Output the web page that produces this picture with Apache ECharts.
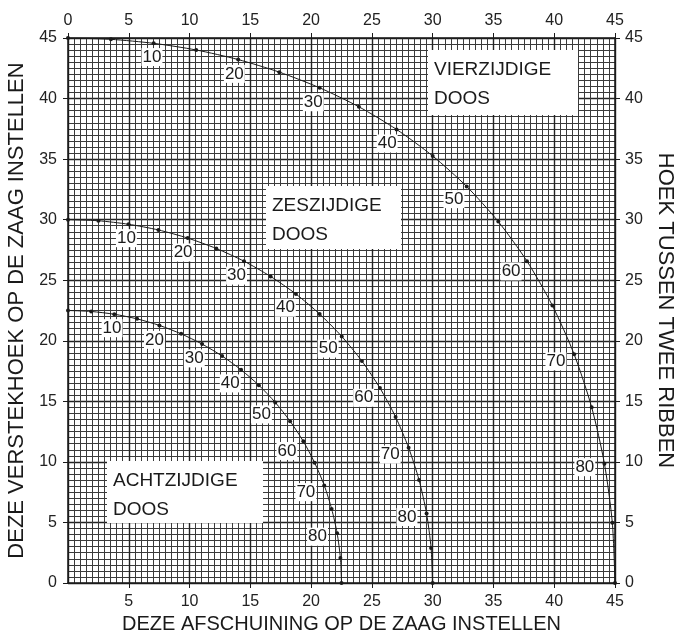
<!DOCTYPE html>
<html>
<head>
<meta charset="utf-8">
<script src="https://cdn.jsdelivr.net/npm/echarts@6/dist/echarts.min.js"></script>
<style>
  html, body { margin: 0; padding: 0; background: #fff; }
  #chart { width: 679px; height: 633px; }
</style>
</head>
<body>
<div id="chart"></div>
<script>
// hoek van de zijwand (0..90), stappen van 5
var tiltAngles = [0, 5, 10, 15, 20, 25, 30, 35, 40, 45, 50, 55, 60, 65, 70, 75, 80, 85, 90]
var labelledAngles = [10, 20, 30, 40, 50, 60, 70, 80]
var axisTicks = [0, 5, 10, 15, 20, 25, 30, 35, 40, 45]

// vierzijdige doos
var bevelFour = [0, 3.53, 7.05, 10.55, 14.0, 17.39, 20.7, 23.93, 27.03, 30.0, 32.8, 35.4, 37.76, 39.85, 41.64, 43.08, 44.13, 44.78, 45]
var miterFour = [45, 44.89, 44.56, 44.01, 43.22, 42.18, 40.89, 39.32, 37.45, 35.26, 32.74, 29.84, 26.57, 22.91, 18.88, 14.51, 9.85, 4.98, 0]
// zeszijdige doos
var bevelSix = [0, 2.5, 4.98, 7.44, 9.85, 12.2, 14.48, 16.67, 18.75, 20.7, 22.52, 24.18, 25.66, 26.95, 28.02, 28.88, 29.5, 29.87, 30]
var miterSix = [30, 29.91, 29.62, 29.15, 28.48, 27.62, 26.57, 25.31, 23.86, 22.21, 20.36, 18.32, 16.1, 13.71, 11.17, 8.5, 5.73, 2.88, 0]
// achtzijdige doos
var bevelEight = [0, 1.91, 3.81, 5.68, 7.52, 9.31, 11.03, 12.68, 14.24, 15.7, 17.05, 18.27, 19.36, 20.29, 21.08, 21.69, 22.14, 22.41, 22.5]
var miterEight = [22.5, 22.42, 22.19, 21.81, 21.27, 20.57, 19.73, 18.74, 17.6, 16.33, 14.91, 13.36, 11.7, 9.93, 8.06, 6.12, 4.11, 2.07, 0]

var FONT = 'Liberation Sans'
var INK = '#1a1a1a'
var SYMBOL = 4

// punten opbouwen, label loodrecht op de curve (links-onder)
function buildPoints (xs, ys) {
  return tiltAngles.map(function (t, i) {
    var item = { value: [xs[i], ys[i]] }
    if (labelledAngles.indexOf(t) >= 0) {
      var dx = xs[i + 1] - xs[i - 1]
      var dy = ys[i + 1] - ys[i - 1]
      var len = Math.sqrt(dx * dx + dy * dy)
      var nx = dy / len
      var ny = dx / len
      var r = 13 + 7 * Math.abs(nx)
      item.label = {
        show: true,
        formatter: String(t),
        position: [SYMBOL / 2 + nx * r, SYMBOL / 2 + ny * r],
        align: 'center',
        verticalAlign: 'middle'
      }
    }
    return item
  })
}

function curve (name, xs, ys) {
  return {
    name: name,
    type: 'line',
    smooth: 0.25,
    symbol: 'circle',
    symbolSize: SYMBOL,
    showAllSymbol: true,
    clip: true,
    lineStyle: { color: INK, width: 1 },
    itemStyle: { color: INK },
    label: {
      show: false,
      fontFamily: FONT,
      fontSize: 17,
      color: INK,
      backgroundColor: '#fff',
      padding: [1, 1, 0, 1]
    },
    labelLayout: { hideOverlap: false },
    data: buildPoints(xs, ys)
  }
}

function boxLabel (left, top, width, height, lines) {
  return {
    type: 'group',
    left: left,
    top: top,
    z: 50,
    children: [
      { type: 'rect', z: 50, shape: { x: 0, y: 0, width: width, height: height }, style: { fill: '#fff' } },
      {
        type: 'text',
        z: 51,
        x: 6,
        y: 5,
        style: {
          text: lines.join('\n'),
          font: '19px "' + FONT + '"',
          lineHeight: 29,
          fill: INK
        }
      }
    ]
  }
}

var chart = echarts.init(document.getElementById('chart'))

var tickFont = { fontFamily: FONT, fontSize: 16, color: '#222' }

var baseAxis = {
  type: 'value',
  min: axisTicks[0],
  max: axisTicks[axisTicks.length - 1],
  interval: 5,
  axisLine: { show: true, onZero: false, lineStyle: { color: INK, width: 1.5 } },
  axisTick: { show: true, inside: false, length: 5, lineStyle: { color: INK } },
  nameTextStyle: { fontFamily: FONT, color: INK }
}

var option = {
  animation: false,
  grid: { left: 68, right: 64, top: 38, bottom: 50, containLabel: false, outerBoundsMode: 'none' },
  xAxis: [
    Object.assign({}, baseAxis, {
      position: 'bottom',
      name: 'DEZE AFSCHUINING OP DE ZAAG INSTELLEN',
      nameLocation: 'middle',
      nameGap: 29,
      nameTextStyle: { fontFamily: FONT, color: INK, fontSize: 20 },
      axisLabel: Object.assign({ margin: 11, showMinLabel: false }, tickFont),
      splitLine: { show: true, lineStyle: { color: '#222', width: 1.4 } },
      minorTick: { show: false, splitNumber: 10 },
      minorSplitLine: { show: true, lineStyle: { color: '#3a3a3a', width: 1 } }
    }),
    Object.assign({}, baseAxis, {
      position: 'top',
      axisLabel: Object.assign({ margin: 9 }, tickFont),
      splitLine: { show: false }
    })
  ],
  yAxis: [
    Object.assign({}, baseAxis, {
      position: 'left',
      name: 'DEZE VERSTEKHOEK OP DE ZAAG INSTELLEN',
      nameLocation: 'middle',
      nameRotate: 90,
      nameGap: 39,
      nameTextStyle: { fontFamily: FONT, color: INK, fontSize: 22 },
      axisLabel: Object.assign({ margin: 11 }, tickFont),
      splitLine: { show: true, lineStyle: { color: '#222', width: 1.4 } },
      minorTick: { show: false, splitNumber: 10 },
      minorSplitLine: { show: true, lineStyle: { color: '#3a3a3a', width: 1 } }
    }),
    Object.assign({}, baseAxis, {
      position: 'right',
      name: 'HOEK TUSSEN TWEE RIBBEN',
      nameLocation: 'middle',
      nameRotate: -90,
      nameGap: 37,
      nameTextStyle: { fontFamily: FONT, color: INK, fontSize: 22 },
      axisLabel: Object.assign({ margin: 10 }, tickFont),
      splitLine: { show: false }
    })
  ],
  series: [
    curve('vierzijdig', bevelFour, miterFour),
    curve('zeszijdig', bevelSix, miterSix),
    curve('achtzijdig', bevelEight, miterEight)
  ],
  graphic: [
    boxLabel(428, 50, 150, 65, ['VIERZIJDIGE', 'DOOS']),
    boxLabel(266, 186, 135, 63, ['ZESZIJDIGE', 'DOOS']),
    boxLabel(107, 461, 156, 62, ['ACHTZIJDIGE', 'DOOS'])
  ]
}

chart.setOption(option)
</script>
</body>
</html>
